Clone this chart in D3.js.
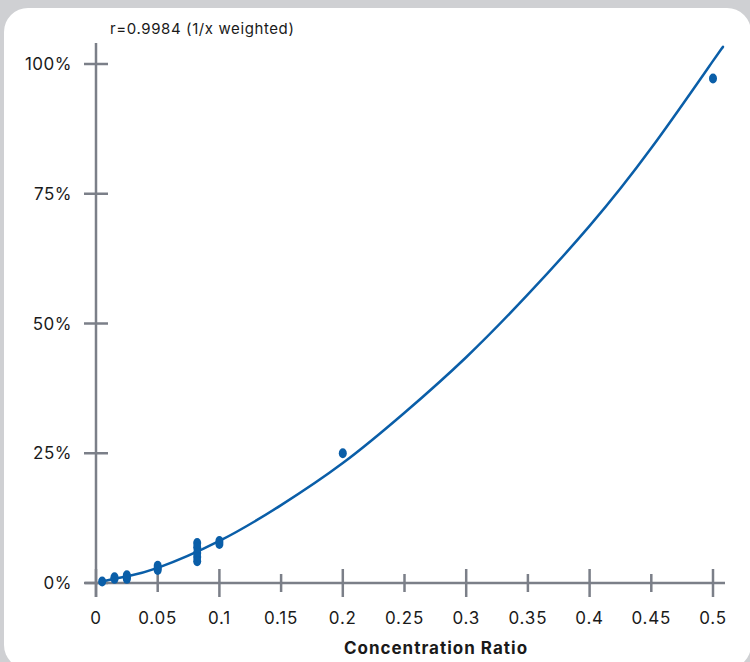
<!DOCTYPE html>
<html>
<head>
<meta charset="utf-8">
<script src="https://cdn.jsdelivr.net/npm/d3@7/dist/d3.min.js"></script>
<style>
  html, body { margin: 0; padding: 0; background: #cfd0d3; }
  svg { display: block; }
  text { font-family: Inter, "Noto Sans", sans-serif; fill: #1a1a1a; }
</style>
</head>
<body>
<svg id="chart" width="750" height="662"></svg>
<script>
// ---- data ----
const title = "r=0.9984 (1/x weighted)";
const xTitle = "Concentration Ratio";
const xTickValues = [0, 0.05, 0.1, 0.15, 0.2, 0.25, 0.3, 0.35, 0.4, 0.45, 0.5];
const xTickLabels = ["0", "0.05", "0.1", "0.15", "0.2", "0.25", "0.3", "0.35", "0.4", "0.45", "0.5"];
const xMajor = [true, false, true, false, true, false, true, false, true, false, true];
const yTickValues = [0, 25, 50, 75, 100];
const yTickLabels = ["0%", "25%", "50%", "75%", "100%"];

// measured points (concentration ratio, response %)
const pointX = [0.005, 0.015, 0.015, 0.025, 0.025, 0.025, 0.05, 0.05, 0.05,
                0.082, 0.082, 0.082, 0.082, 0.082, 0.1, 0.1, 0.2, 0.5];
const pointY = [0.3, 0.8, 1.1, 0.8, 1.1, 1.5, 2.5, 2.9, 3.3,
                7.7, 6.9, 5.8, 5.0, 4.2, 8.1, 7.5, 25.0, 97.2];

// fitted curve
const fitX = [0.005, 0.025, 0.05, 0.1, 0.15, 0.2, 0.25, 0.3, 0.35, 0.4, 0.45, 0.5, 0.507];
const fitY = [0.3, 1.3, 2.9, 8.1, 15.0, 23.1, 32.8, 43.5, 55.6, 68.8, 83.8, 100.6, 102.9];

// ---- drawing ----
const svg = d3.select("#chart");
const blue = "#0a5ea8";
const axisColor = "#7b7f88";

svg.append("rect")
  .attr("x", 4).attr("y", 8)
  .attr("width", 747).attr("height", 661)
  .attr("rx", 24).attr("ry", 24)
  .attr("fill", "#ffffff");

const x = d3.scaleLinear().domain([0, 0.5]).range([96, 713]);
const y = d3.scaleLinear().domain([0, 100]).range([583, 64]);

// axes lines
svg.append("line")
  .attr("x1", 85).attr("x2", 725)
  .attr("y1", y(0)).attr("y2", y(0))
  .attr("stroke", axisColor).attr("stroke-width", 2.5);
svg.append("line")
  .attr("x1", x(0)).attr("x2", x(0))
  .attr("y1", 43).attr("y2", 597)
  .attr("stroke", axisColor).attr("stroke-width", 2.5);

// x ticks
const xt = svg.append("g");
xt.selectAll("line").data(xTickValues).join("line")
  .attr("x1", d => x(d)).attr("x2", d => x(d))
  .attr("y1", (d, i) => y(0) - (xMajor[i] ? 14 : 9))
  .attr("y2", (d, i) => y(0) + (xMajor[i] ? 14 : 9))
  .attr("stroke", axisColor).attr("stroke-width", 2.5);
xt.selectAll("text").data(xTickValues).join("text")
  .attr("x", d => x(d)).attr("y", 624)
  .attr("text-anchor", "middle")
  .attr("font-size", 17)
  .attr("letter-spacing", 0.8)
  .text((d, i) => xTickLabels[i]);

// y ticks
const yt = svg.append("g");
yt.selectAll("line").data(yTickValues).join("line")
  .attr("x1", x(0) - 12).attr("x2", x(0) + 12)
  .attr("y1", d => y(d)).attr("y2", d => y(d))
  .attr("stroke", axisColor).attr("stroke-width", 2.5);
yt.selectAll("text").data(yTickValues).join("text")
  .attr("x", 72).attr("y", d => y(d) + 6)
  .attr("text-anchor", "end")
  .attr("font-size", 17)
  .attr("letter-spacing", 0.5)
  .text((d, i) => yTickLabels[i]);

// fitted curve
const fit = fitX.map((v, i) => [v, fitY[i]]);
svg.append("path")
  .datum(fit)
  .attr("fill", "none")
  .attr("stroke", blue)
  .attr("stroke-width", 2.5)
  .attr("d", d3.line().x(d => x(d[0])).y(d => y(d[1])).curve(d3.curveNatural));

// points
const pts = pointX.map((v, i) => [v, pointY[i]]);
svg.append("g").selectAll("ellipse").data(pts).join("ellipse")
  .attr("cx", d => x(d[0])).attr("cy", d => y(d[1]))
  .attr("rx", 4).attr("ry", 5)
  .attr("fill", blue);

// titles
svg.append("text")
  .attr("x", 110).attr("y", 34)
  .attr("font-size", 15)
  .attr("letter-spacing", 0.6)
  .text(title);
svg.append("text")
  .attr("x", 436).attr("y", 654)
  .attr("text-anchor", "middle")
  .attr("font-size", 17)
  .attr("font-weight", "bold")
  .attr("letter-spacing", 1)
  .text(xTitle);
</script>
</body>
</html>
